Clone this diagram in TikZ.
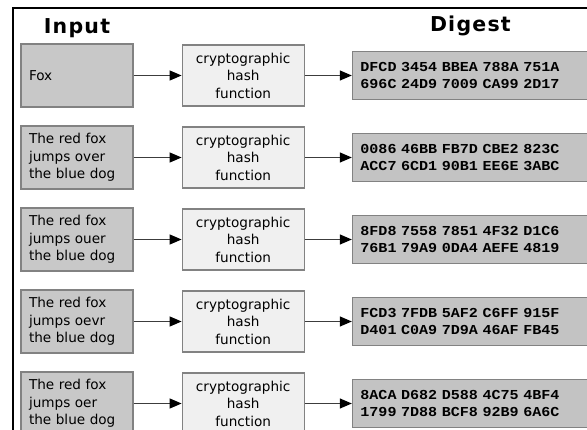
\documentclass[tikz,border=0pt]{standalone}
\usepackage{fontspec}
\usepackage{xcolor}
\setmainfont{DejaVu Sans}
\newfontfamily\hexfont[FakeStretch=1.1, WordSpace=0.45]{Liberation Mono}
\newfontfamily\headfont[LetterSpace=6]{DejaVu Sans}
\usetikzlibrary{positioning,arrows.meta}
\definecolor{ingray}{RGB}{200,200,200}
\definecolor{hashgray}{RGB}{240,240,240}
\definecolor{digestgray}{RGB}{195,195,195}
\definecolor{edgegray}{RGB}{130,130,130}
\definecolor{arrowgray}{RGB}{60,60,60}

\begin{document}
\begin{tikzpicture}[x=1pt, y=-1pt,
    inbox/.style={draw=edgegray, line width=1.2pt, fill=ingray, align=left,
        text width=96pt, inner xsep=8pt, minimum height=63pt,
        font=\fontsize{13.6pt}{17.5pt}\selectfont},
    hashbox/.style={draw=edgegray, line width=1.2pt, fill=hashgray, align=center,
        text width=114pt, inner xsep=4pt, minimum height=61pt,
        font=\fontsize{13.6pt}{17.5pt}\selectfont},
    digestbox/.style={draw=edgegray, line width=1.2pt, fill=digestgray, align=left,
        text width=220pt, inner xsep=8pt, minimum height=48pt,
        font=\hexfont\bfseries\fontsize{13.7pt}{17pt}\selectfont},
    headlabel/.style={anchor=base, inner sep=0pt,
        font=\headfont\bfseries\fontsize{20.5pt}{20.5pt}\selectfont},
    flow/.style={-{Triangle[length=12pt,width=10pt,black]}, draw=arrowgray, line width=1.2pt}]
    \clip (0,0) rectangle (587,430);
    % outer frame, cut off at the right and bottom
    \draw[line width=2pt] (13,440) -- (13,8) -- (600,8);

    \node[inbox] (in1) at (77,75.5) {Fox};
    \node[inbox, below=17.8pt of in1] (in2) {The red fox\\jumps over\\the blue dog};
    \node[inbox, below=17.8pt of in2] (in3) {The red fox\\jumps ouer\\the blue dog};
    \node[inbox, below=17.8pt of in3] (in4) {The red fox\\jumps oevr\\the blue dog};
    \node[inbox, below=17.8pt of in4] (in5) {The red fox\\jumps oer\\the blue dog};

    \node[hashbox, right=48pt of in1] (hash1) {cryptographic\\hash\\function};
    \node[hashbox, right=48pt of in2] (hash2) {cryptographic\\hash\\function};
    \node[hashbox, right=48pt of in3] (hash3) {cryptographic\\hash\\function};
    \node[hashbox, right=48pt of in4] (hash4) {cryptographic\\hash\\function};
    \node[hashbox, right=48pt of in5] (hash5) {cryptographic\\hash\\function};

    \node[digestbox, right=47pt of hash1] (dig1) {DFCD 3454 BBEA 788A 751A\\696C 24D9 7009 CA99 2D17};
    \node[digestbox, right=47pt of hash2] (dig2) {0086 46BB FB7D CBE2 823C\\ACC7 6CD1 90B1 EE6E 3ABC};
    \node[digestbox, right=47pt of hash3] (dig3) {8FD8 7558 7851 4F32 D1C6\\76B1 79A9 0DA4 AEFE 4819};
    \node[digestbox, right=47pt of hash4] (dig4) {FCD3 7FDB 5AF2 C6FF 915F\\D401 C0A9 7D9A 46AF FB45};
    \node[digestbox, right=47pt of hash5] (dig5) {8ACA D682 D588 4C75 4BF4\\1799 7D88 BCF8 92B9 6A6C};

    \node[headlabel] (inhead) at ([yshift=10pt]in1.north) {Input};
    \node[headlabel] (dighead) at ([yshift=19pt]dig1.north) {Digest};

    \draw[flow] (in1) -- (hash1);
    \draw[flow] (in2) -- (hash2);
    \draw[flow] (in3) -- (hash3);
    \draw[flow] (in4) -- (hash4);
    \draw[flow] (in5) -- (hash5);
    \draw[flow] (hash1) -- (dig1);
    \draw[flow] (hash2) -- (dig2);
    \draw[flow] (hash3) -- (dig3);
    \draw[flow] (hash4) -- (dig4);
    \draw[flow] (hash5) -- (dig5);
\end{tikzpicture}
\end{document}
